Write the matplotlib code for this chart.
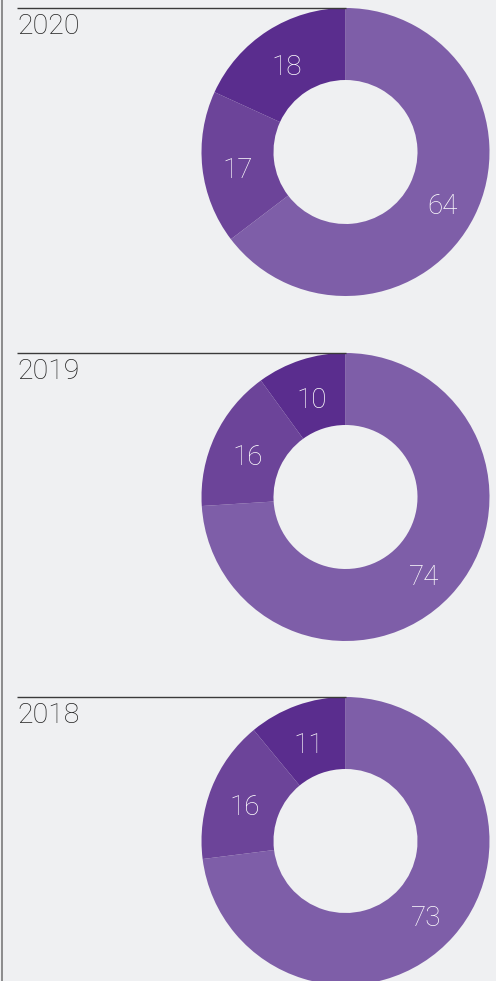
import matplotlib
matplotlib.use('Agg')
from matplotlib import pyplot as plt

plt.rcParams['font.family'] = ['Roboto', 'DejaVu Sans']

# data
years = ['2020', '2019', '2018']
shares_2020 = [64, 17, 18]
shares_2019 = [74, 16, 10]
shares_2018 = [73, 16, 11]
shares = [shares_2020, shares_2019, shares_2018]

colors = ['#7e5ea8', '#6c4499', '#5a2d8e']
bg = '#eff0f2'

W, H = 496, 981
fig = plt.figure(figsize=(W / 100, H / 100), dpi=100, facecolor=bg)
ax = fig.add_axes([0, 0, 1, 1])
ax.set_facecolor(bg)

# pixel-ish coordinates, y measured from the top of the picture
cx = 345.5
tops = [8, 353, 697]
R = 144
width = 72

for year, vals, top in zip(years, shares, tops):
    cy = H - (top + R)
    wedges, texts = ax.pie(vals, colors=colors, startangle=90, counterclock=False,
                           center=(cx, cy), radius=R, labels=[str(v) for v in vals],
                           labeldistance=(R - width / 2) / R,
                           wedgeprops=dict(width=width, linewidth=0),
                           textprops=dict(color='white', fontsize=20, fontweight='light',
                                          ha='center', va='baseline'))
    # centre the digits visually on the ring
    for t in texts:
        x, y = t.get_position()
        t.set_position((x, y - 14))
    ax.plot([17, cx], [H - top, H - top], color='#3a3a3a', lw=1.0, solid_capstyle='butt')
    ax.text(17, H - top - 26, year, fontsize=20.5, fontweight='light',
            color='#222222', ha='left', va='baseline')

ax.plot([1.5, 1.5], [0, H], color='#7a7a7a', lw=1.2)

ax.set_xlim(0, W)
ax.set_ylim(0, H)
ax.set_aspect('equal')
ax.axis('off')

fig.savefig('out.png', dpi=100, facecolor=bg)
